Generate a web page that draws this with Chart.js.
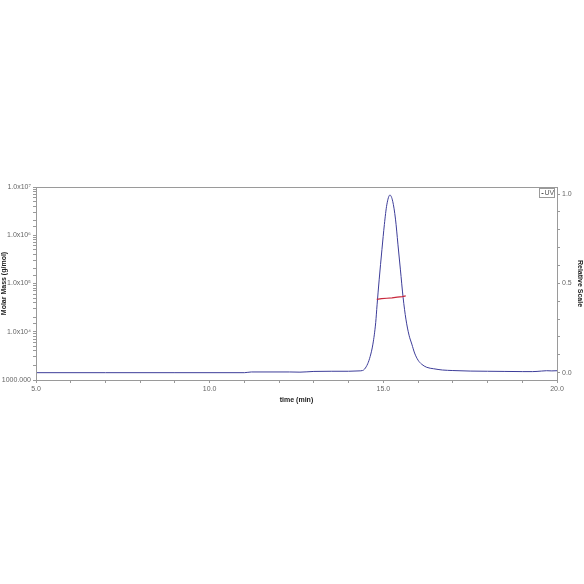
<!DOCTYPE html>
<html>
<head>
<meta charset="utf-8">
<script src="https://cdn.jsdelivr.net/npm/chart.js@4"></script>
<style>
  html, body { margin: 0; padding: 0; background: #fff; }
  #wrap { width: 584px; height: 584px; }
</style>
</head>
<body>
<div id="wrap"><canvas id="malsChart"></canvas></div>
<script>
// UV trace, relative scale (right axis)
const uvTime = [5.0, 7.0, 9.0, 11.0, 11.2, 12.3, 12.6, 13.0, 13.5, 14.0, 14.3, 14.4, 14.46, 14.55, 14.62, 14.7,
    14.78, 14.82, 14.88, 14.96, 15.03, 15.1, 15.19, 15.27, 15.35, 15.42, 15.49, 15.57, 15.65, 15.74, 15.82,
    15.9, 16.0, 16.1, 16.25, 16.45, 16.7, 17.0, 17.5, 18.0, 18.5, 19.0, 19.3, 19.55, 19.7, 19.85, 20.0];
const uvSignal = [0.0, 0.0, 0.0, 0.0, 0.004, 0.004, 0.003, 0.007, 0.008, 0.008, 0.01, 0.012, 0.02, 0.05, 0.09, 0.16,
    0.28, 0.38, 0.52, 0.69, 0.83, 0.94, 0.995, 0.96, 0.86, 0.72, 0.58, 0.42, 0.3, 0.21, 0.16,
    0.11, 0.07, 0.048, 0.03, 0.022, 0.015, 0.012, 0.009, 0.008, 0.007, 0.006, 0.006, 0.009, 0.011, 0.01, 0.011];

// Molar mass across the peak (left axis, g/mol)
const mmTime = [14.81, 14.95, 15.1, 15.25, 15.4, 15.55, 15.645];
const mmValue = [47000, 48500, 49500, 50500, 52000, 53500, 55500];

// tick labels
const massLabels = { 1000: '1000.000', 10000: '1.0x10⁴', 100000: '1.0x10⁵', 1000000: '1.0x10⁶', 10000000: '1.0x10⁷' };
const timeLabels = [5, 10, 15, 20];
const relTicks = [0, 0.1, 0.2, 0.3, 0.4, 0.5, 0.6, 0.7, 0.8, 0.9, 1.0];
const relLabels = [0, 0.5, 1.0];

const tickFont = { family: 'Liberation Sans', size: 7 };
const titleFont = { family: 'Liberation Sans', size: 7, weight: 'bold' };
const axisGray = '#9a9a9a';

// frame on top of the plot + small "UV" legend box
const framePlugin = {
    id: 'frame',
    afterDraw(chart) {
        const { ctx, chartArea: a } = chart;
        ctx.save();
        ctx.strokeStyle = axisGray;
        ctx.lineWidth = 1;
        ctx.strokeRect(Math.round(a.left) + 0.5, Math.round(a.top) + 0.5,
            Math.round(a.right - a.left), Math.round(a.bottom - a.top));
        const bx = Math.round(a.right) - 17.5, by = Math.round(a.top) + 1.5;
        ctx.fillStyle = '#fff';
        ctx.fillRect(bx, by, 15, 9);
        ctx.strokeRect(bx, by, 15, 9);
        ctx.strokeStyle = '#555';
        ctx.beginPath();
        ctx.moveTo(bx + 2, by + 5);
        ctx.lineTo(bx + 4, by + 5);
        ctx.stroke();
        ctx.fillStyle = '#555';
        ctx.font = '7px "Liberation Sans"';
        ctx.textBaseline = 'middle';
        ctx.fillText(chart.data.datasets[1].label, bx + 5, by + 5);
        ctx.restore();
    }
};

new Chart(document.getElementById('malsChart'), {
    type: 'line',
    data: {
        datasets: [{
            label: 'Molar Mass',
            data: mmTime.map((t, i) => ({ x: t, y: mmValue[i] })),
            yAxisID: 'y',
            borderColor: '#c8283c',
            borderWidth: 1.2,
            pointRadius: 0,
            order: 0
        }, {
            label: 'UV',
            data: uvTime.map((t, i) => ({ x: t, y: uvSignal[i] })),
            yAxisID: 'y1',
            borderColor: '#3d3d99',
            borderWidth: 1,
            pointRadius: 0,
            cubicInterpolationMode: 'monotone',
            order: 1
        }]
    },
    options: {
        responsive: true,
        maintainAspectRatio: false,
        animation: false,
        layout: { padding: { top: 187, bottom: 180, left: 0, right: 0 } },
        plugins: { legend: { display: false }, tooltip: { enabled: false } },
        scales: {
            x: {
                type: 'linear', min: 5, max: 20,
                grid: { drawOnChartArea: false, tickLength: 3, color: axisGray },
                border: { color: axisGray },
                ticks: {
                    stepSize: 1, autoSkip: false, maxRotation: 0, font: tickFont, color: '#666', padding: 2,
                    callback: v => timeLabels.includes(v) ? v.toFixed(1) : ''
                },
                title: { display: true, text: 'time (min)', font: titleFont, color: '#222', padding: { top: 0, bottom: 0 } },
                afterFit: s => { s.height = 24; }
            },
            y: {
                type: 'logarithmic', position: 'left', min: 1000, max: 10000000,
                grid: { drawOnChartArea: false, tickLength: 3, color: axisGray },
                border: { color: axisGray },
                ticks: {
                    autoSkip: false, font: tickFont, color: '#666', padding: 2,
                    callback: v => massLabels[v] || ''
                },
                title: { display: true, text: 'Molar Mass (g/mol)', font: titleFont, color: '#222', padding: 0 },
                afterFit: s => { s.width = 36; }
            },
            y1: {
                type: 'linear', position: 'right', min: -0.041, max: 1.04,
                grid: { drawOnChartArea: false, tickLength: 3, color: axisGray },
                border: { color: axisGray },
                afterBuildTicks: s => { s.ticks = relTicks.map(v => ({ value: v })); },
                ticks: {
                    autoSkip: false, font: tickFont, color: '#666', padding: 2,
                    callback: v => relLabels.some(r => Math.abs(r - v) < 1e-6) ? v.toFixed(1) : ''
                },
                title: { display: true, text: 'Relative Scale', font: titleFont, color: '#222', padding: { top: 0, bottom: 2 } },
                afterFit: s => { s.width = 27; }
            }
        }
    },
    plugins: [framePlugin]
});
</script>
</body>
</html>
